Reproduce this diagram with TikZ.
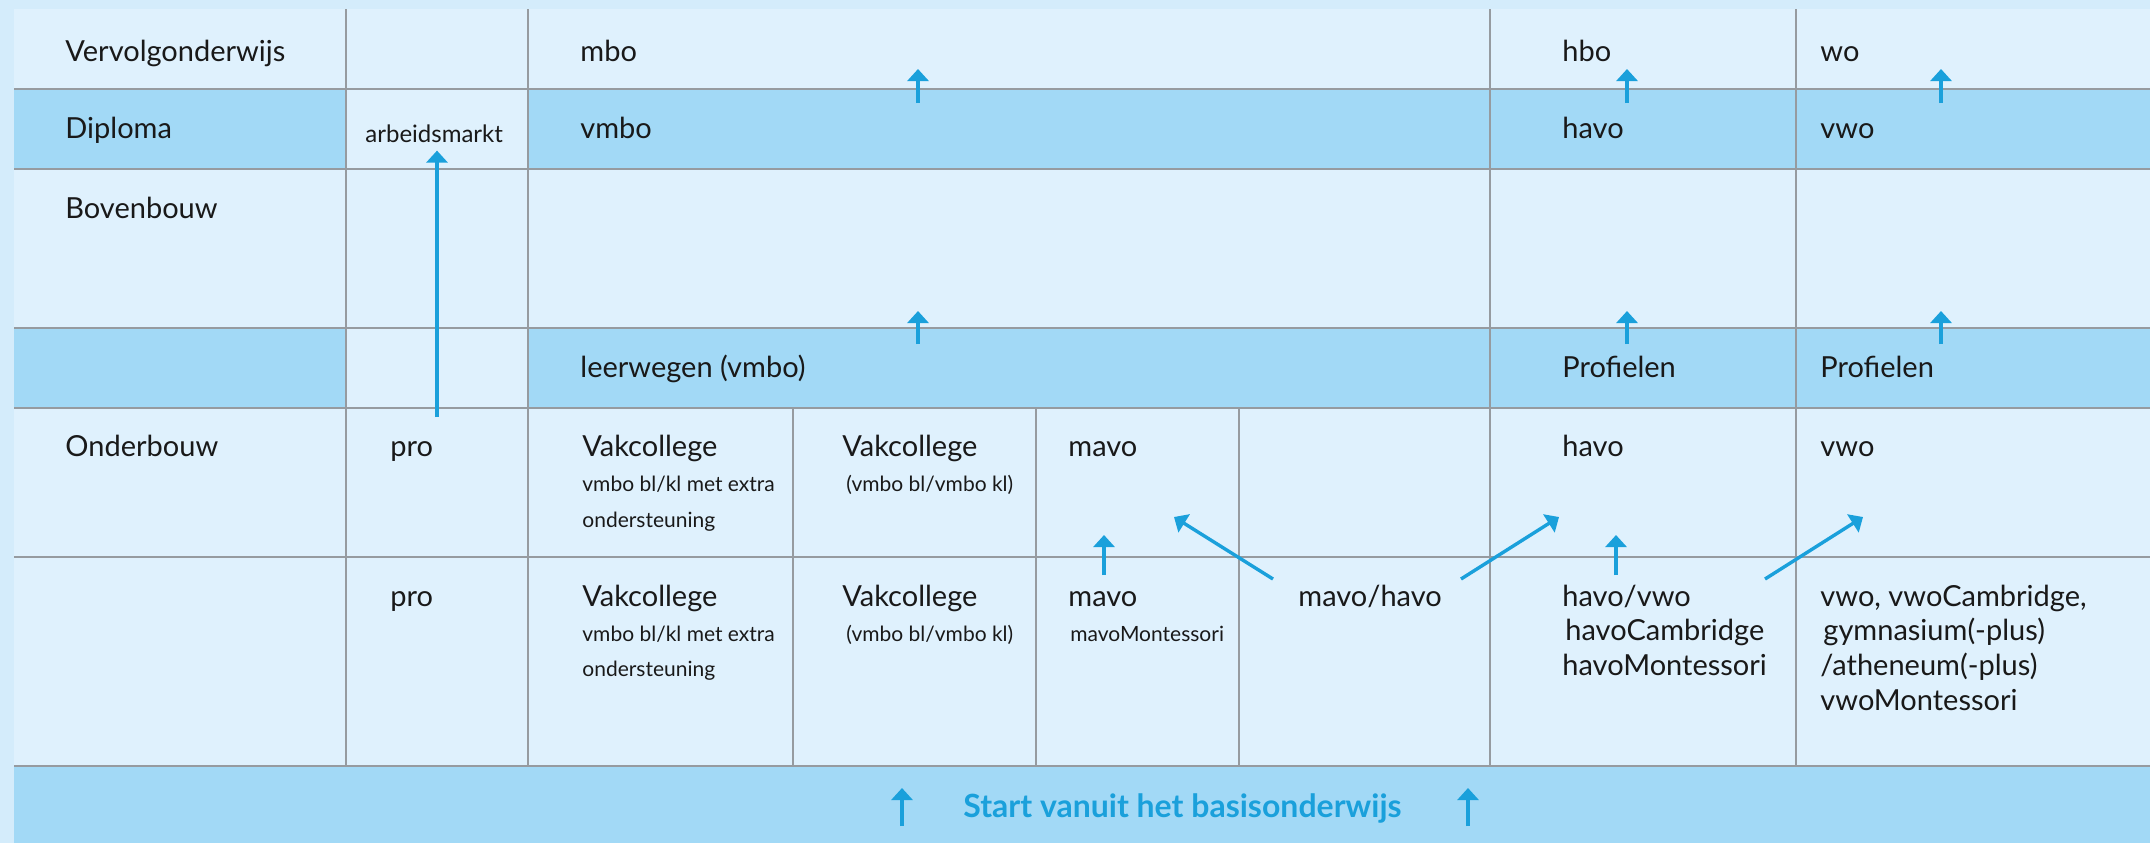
\documentclass[tikz,border=0pt]{standalone}
\usepackage{fontspec}
\setmainfont{Lato}
\usetikzlibrary{arrows.meta}
\definecolor{frameblue}{RGB}{212,236,251}
\definecolor{cellblue}{RGB}{223,241,253}
\definecolor{bandblue}{RGB}{162,217,246}
\definecolor{arrowblue}{RGB}{26,160,219}
\definecolor{gridgray}{RGB}{150,155,160}
\definecolor{ink}{RGB}{25,25,25}
\tikzset{
  txt/.style={anchor=base west,inner sep=0pt,text=ink,font=\fontsize{14.5}{17}\selectfont},
  small/.style={anchor=base west,inner sep=0pt,text=ink,font=\fontsize{10.5}{17}\selectfont},
  gridline/.style={draw=gridgray,line width=0.7pt},
  up/.style={draw=arrowblue,line width=1.7pt,-{Triangle[width=10.5pt,length=6pt]}}
}
\begin{document}
\begin{tikzpicture}[x=0.5pt,y=-0.5pt]
  \useasboundingbox (0,0) rectangle (2150,843);
  \fill[color=frameblue] (0,0) rectangle (2150,843);
  \fill[color=cellblue] (14,9) rectangle (2150,766);
  \fill[color=bandblue] (14,89) rectangle (346,169);
  \fill[color=bandblue] (528,89) rectangle (2150,169);
  \fill[color=bandblue] (14,328) rectangle (346,408);
  \fill[color=bandblue] (528,328) rectangle (2150,408);
  \fill[color=bandblue] (14,766) rectangle (2150,843);
  \foreach \y in {89,169,328,408,557,766}
    \draw[gridline] (14,\y) -- (2150,\y);
  \foreach \x in {346,528,1490,1796}
    \draw[gridline] (\x,9) -- (\x,766);
  \foreach \x in {793,1036,1239}
    \draw[gridline] (\x,408) -- (\x,766);

  \node[txt] (vervolg) at (65,61) {Vervolgonderwijs};
  \node[txt] (diploma) at (65,138) {Diploma};
  \node[txt] (boven) at (65,218) {Bovenbouw};
  \node[txt] (onder) at (65,456) {Onderbouw};
  \node[small,font=\fontsize{12}{17}\selectfont] (arbeid) at (365,142) {arbeidsmarkt};
  \node[txt] (mbo) at (580,61) {mbo};
  \node[txt] (vmbo) at (580,138) {vmbo};
  \node[txt] (leerwegen) at (580,377) {leerwegen (vmbo)};
  \node[txt] (hbo) at (1562,61) {hbo};
  \node[txt] (havodip) at (1562,138) {havo};
  \node[txt] (profhavo) at (1562,377) {Profielen};
  \node[txt] (wo) at (1820,61) {wo};
  \node[txt] (vwodip) at (1820,138) {vwo};
  \node[txt] (profvwo) at (1820,377) {Profielen};

  \node[txt] (pro1) at (390,456) {pro};
  \node[txt] (vakx1) at (582,456) {Vakcollege};
  \node[small] (vakx1a) at (582,491) {vmbo bl/kl met extra};
  \node[small] (vakx1b) at (582,527) {ondersteuning};
  \node[txt] (vak1) at (842,456) {Vakcollege};
  \node[small] (vak1a) at (846,491) {(vmbo bl/vmbo kl)};
  \node[txt] (mavo1) at (1068,456) {mavo};
  \node[txt] (havo1) at (1562,456) {havo};
  \node[txt] (vwo1) at (1820,456) {vwo};

  \node[txt] (pro2) at (390,606) {pro};
  \node[txt] (vakx2) at (582,606) {Vakcollege};
  \node[small] (vakx2a) at (582,641) {vmbo bl/kl met extra};
  \node[small] (vakx2b) at (582,676) {ondersteuning};
  \node[txt] (vak2) at (842,606) {Vakcollege};
  \node[small] (vak2a) at (846,641) {(vmbo bl/vmbo kl)};
  \node[txt] (mavo2) at (1068,606) {mavo};
  \node[small] (mavo2a) at (1070,641) {mavoMontessori};
  \node[txt] (mavohavo) at (1298,606) {mavo/havo};
  \node[txt] (havo2) at (1562,606) {havo/vwo};
  \node[txt] (havo2a) at (1565,640) {havoCambridge};
  \node[txt] (havo2b) at (1562,675) {havoMontessori};
  \node[txt] (vwo2) at (1820,606) {vwo, vwoCambridge,};
  \node[txt] (vwo2a) at (1823,640) {gymnasium(-plus)};
  \node[txt] (vwo2b) at (1820,675) {/atheneum(-plus)};
  \node[txt] (vwo2c) at (1820,710) {vwoMontessori};

  \node[anchor=base west,inner sep=0pt,text=arrowblue,font=\fontsize{16}{19}\selectfont\bfseries]
    (start) at (963,817) {Start vanuit het basisonderwijs};

  \coordinate (arbeidfoot) at (437,417);
  \draw[up] (arbeidfoot) -- ([yshift=-4pt]arbeidfoot |- arbeid.south);
  \foreach \x/\n in {918/mbo,1627/hbo,1941/wo} {
    \coordinate (\n-from) at (\x,103);
    \coordinate (\n-to) at (\x,69);
    \draw[up] (\n-from) -- (\n-to);
    \coordinate (\n-pfrom) at (\x,344);
    \coordinate (\n-pto) at (\x,311);
    \draw[up] (\n-pfrom) -- (\n-pto);
  }
  \foreach \x/\n in {1104/mavo,1616/havo} {
    \coordinate (\n-from) at (\x,575);
    \coordinate (\n-to) at (\x,535);
    \draw[up] (\n-from) -- (\n-to);
  }
  \coordinate (mh-a) at (1273,579);
  \coordinate (mh-b) at (1461,579);
  \coordinate (hv-a) at (1765,579);
  \coordinate (mavo-up) at (1174,517);
  \coordinate (havo-up) at (1559,517);
  \coordinate (vwo-up) at (1863,517);
  \draw[up] (mh-a) -- (mavo-up);
  \draw[up] (mh-b) -- (havo-up);
  \draw[up] (hv-a) -- (vwo-up);
  \foreach \x/\n in {902/left,1468/right} {
    \coordinate (start-\n-from) at (\x,826);
    \coordinate (start-\n-to) at (\x,788);
    \draw[up] (start-\n-from) -- (start-\n-to);
  }
\end{tikzpicture}
\end{document}
